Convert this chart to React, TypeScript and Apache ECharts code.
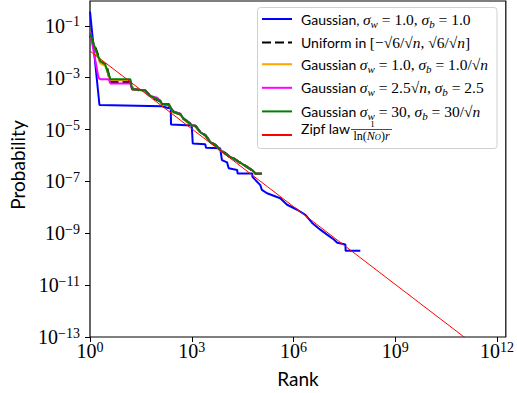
import React, { useEffect, useRef } from 'react';
import * as echarts from 'echarts';

// ---- data (rank, probability) ----
const blueRank = [1, 1.9, 132, 200, 240, 245, 1000, 1070, 2500, 2630, 6900, 7760, 11000, 12300, 21900, 22400, 60300, 61700, 105000, 117000, 166000, 407000, 646000, 1290000, 2240000, 3550000, 6170000, 9770000, 15500000, 19500000, 33900000, 34500000, 93300000];
const blueProb = [0.355, 8.9e-5, 7.9e-5, 6.8e-5, 6.8e-5, 1.58e-5, 1.45e-5, 2.9e-6, 2.75e-6, 2.0e-6, 1.9e-6, 6.6e-7, 5.4e-7, 3.2e-7, 2.75e-7, 2.04e-7, 2.04e-7, 1.51e-7, 7.2e-8, 4.7e-8, 3.5e-8, 2.24e-8, 1.26e-8, 8.1e-9, 5.1e-9, 2.5e-9, 1.38e-9, 8.9e-10, 5.75e-10, 4.3e-10, 3.7e-10, 2.1e-10, 2.1e-10];

const uniformRank = [1, 1.5, 2, 3, 4, 16, 18, 43, 60, 117, 132, 209, 234, 295, 457, 575, 1020, 1300, 1780, 2500, 3550, 5000, 6900, 9500, 13800, 18000, 24000, 32000, 42700, 60000, 76000, 117000];
const uniformProb = [0.045, 0.012, 0.0042, 0.0031, 0.00069, 0.00069, 0.00037, 0.00031, 0.00019, 0.000125, 9.5e-5, 9.2e-5, 7.0e-5, 4.8e-5, 3.9e-5, 2.6e-5, 1.5e-5, 1.35e-5, 8.0e-6, 6.2e-6, 3.3e-6, 2.5e-6, 1.6e-6, 1.25e-6, 8.5e-7, 7.4e-7, 5.7e-7, 4.6e-7, 3.6e-7, 2.7e-7, 2.0e-7, 2.0e-7];

const orangeRank = [1, 1.45, 2, 2.8, 4, 15.5, 17.4, 43, 60, 117, 132, 209, 234, 295, 457, 575, 1020, 1300, 1780, 2500, 3550, 5000, 6900, 9500, 13800, 18000, 24000, 32000, 42700, 60000, 76000, 117000];
const orangeProb = [0.05, 0.0115, 0.0036, 0.0029, 0.0008, 0.0008, 0.00036, 0.00031, 0.0002, 0.00013, 9.6e-5, 9.6e-5, 7.1e-5, 4.6e-5, 4.1e-5, 2.5e-5, 1.45e-5, 1.38e-5, 7.8e-6, 6.1e-6, 3.2e-6, 2.6e-6, 1.6e-6, 1.2e-6, 8.6e-7, 7.5e-7, 5.8e-7, 4.6e-7, 3.7e-7, 2.75e-7, 2.0e-7, 2.0e-7];

const magentaRank = [1, 1.78, 2, 3.6, 4, 15.5, 17.4, 43, 60, 95, 117, 132, 209, 234, 295, 457, 575, 1020, 1300, 1780, 2500, 3550, 5000, 6900, 9500, 13800, 18000, 24000, 32000, 42700, 60000, 76000, 117000];
const magentaProb = [0.062, 0.001, 0.00087, 0.00087, 0.0006, 0.0006, 0.00036, 0.00033, 0.0002, 0.00017, 0.00013, 0.0001, 9.5e-5, 7.0e-5, 4.9e-5, 4.1e-5, 2.6e-5, 1.5e-5, 1.4e-5, 8.0e-6, 6.0e-6, 3.3e-6, 2.6e-6, 1.6e-6, 1.2e-6, 8.7e-7, 7.4e-7, 5.8e-7, 4.6e-7, 3.7e-7, 2.75e-7, 2.0e-7, 2.0e-7];

const greenRank = [1, 1.45, 2, 2.8, 4, 15.5, 17.4, 43, 60, 117, 132, 209, 234, 295, 457, 575, 1020, 1300, 1780, 2500, 3550, 5000, 6900, 9500, 13800, 18000, 24000, 32000, 42700, 60000, 76000, 117000];
const greenProb = [0.054, 0.0123, 0.0044, 0.0033, 0.00087, 0.00087, 0.00036, 0.00032, 0.0002, 0.00013, 9.8e-5, 9.8e-5, 7.2e-5, 4.7e-5, 4.0e-5, 2.6e-5, 1.45e-5, 1.4e-5, 7.9e-6, 6.0e-6, 3.2e-6, 2.6e-6, 1.6e-6, 1.2e-6, 8.7e-7, 7.5e-7, 5.8e-7, 4.6e-7, 3.7e-7, 2.75e-7, 2.0e-7, 2.0e-7];

const zipfRank = [1, 1e12];
const zipfProb = [0.0107, 1.07e-14];

const xTicks = [1, 1e3, 1e6, 1e9, 1e12];
const yTicks = [1e-13, 1e-11, 1e-9, 1e-7, 1e-5, 1e-3, 1e-1];

const seriesNames = [
  'Gaussian, σw = 1.0, σb = 1.0',
  'Uniform in [−√6/√n, √6/√n]',
  'Gaussian σw = 1.0, σb = 1.0/√n',
  'Gaussian σw = 2.5√n, σb = 2.5',
  'Gaussian σw = 30, σb = 30/√n',
  'Zipf law',
];

const legendRich: Record<string, string> = {
  'Gaussian, σw = 1.0, σb = 1.0': '{t|Gaussian, }{i|σ}{sb|w}{m| = 1.0, }{i|σ}{sb|b}{m| = 1.0}',
  'Uniform in [−√6/√n, √6/√n]': '{t|Uniform in }{m|[−√6/√}{i|n}{m|, √6/√}{i|n}{m|]}',
  'Gaussian σw = 1.0, σb = 1.0/√n': '{t|Gaussian }{i|σ}{sb|w}{m| = 1.0, }{i|σ}{sb|b}{m| = 1.0/√}{i|n}',
  'Gaussian σw = 2.5√n, σb = 2.5': '{t|Gaussian }{i|σ}{sb|w}{m| = 2.5√}{i|n}{m|, }{i|σ}{sb|b}{m| = 2.5}',
  'Gaussian σw = 30, σb = 30/√n': '{t|Gaussian }{i|σ}{sb|w}{m| = 30, }{i|σ}{sb|b}{m| = 30/√}{i|n}',
};

const SERIF = 'Liberation Serif';
const SANS = 'Lato';

function pow10Label(v: number) {
  const e = Math.round(Math.log10(v));
  const s = e < 0 ? '−' + String(-e) : String(e);
  return `{b|10}{s|${s}}`;
}

const tickRich = {
  b: { fontFamily: SERIF, fontSize: 20, lineHeight: 22, color: '#000' },
  s: { fontFamily: SERIF, fontSize: 14, lineHeight: 10, verticalAlign: 'top', color: '#000' },
};

export default function App() {
  const ref = useRef<HTMLDivElement>(null);
  useEffect(() => {
    if (!ref.current) return;
    const chart = echarts.init(ref.current, undefined, { renderer: 'svg' });
    const mk = (name: string, ranks: number[], probs: number[], color: string, width: number, type: any = 'solid') => ({
      name,
      type: 'line',
      data: ranks.map((r, i) => [r, probs[i]]),
      symbol: 'none',
      clip: true,
      lineStyle: { color, width, type },
      itemStyle: { color },
    });
    const legendRichStyles = {
      t: { fontFamily: SANS, fontSize: 14, lineHeight: 20, color: '#000', padding: [0, 0, 0, 4] },
      m: { fontFamily: SERIF, fontSize: 15.5, lineHeight: 20, color: '#000' },
      i: { fontFamily: SERIF, fontStyle: 'italic', fontSize: 15.5, lineHeight: 20, color: '#000' },
      sb: { fontFamily: SERIF, fontStyle: 'italic', fontSize: 11, lineHeight: 14, verticalAlign: 'bottom', color: '#000' },
    };
    const legendCommon = {
      orient: 'vertical',
      itemWidth: 30,
      itemHeight: 14,
      backgroundColor: 'transparent',
      borderWidth: 0,
      itemStyle: { opacity: 0 },
    };
    const front = { z: 100 };
    chart.setOption({
      animation: false,
      backgroundColor: '#fff',
      grid: {
        left: 90, right: 11, top: 1, bottom: 53,
        show: true, borderColor: '#000', borderWidth: 1.2, backgroundColor: 'transparent',
      },
      xAxis: {
        type: 'log', logBase: 10, min: 1, max: 1.82e12,
        name: 'Rank', nameLocation: 'middle', nameGap: 32,
        nameTextStyle: { fontFamily: SANS, fontSize: 19, color: '#000' },
        axisLine: { show: false },
        axisTick: { show: true, length: 5, inside: false, lineStyle: { color: '#000', width: 1 }, customValues: xTicks },
        axisLabel: { customValues: xTicks, formatter: (v: number) => pow10Label(v), rich: tickRich, margin: 3 },
        splitLine: { show: false },
        minorTick: { show: false },
      },
      yAxis: {
        type: 'log', logBase: 10, min: 1e-13, max: 0.912,
        name: 'Probability', nameLocation: 'middle', nameGap: 62, nameRotate: 90,
        nameTextStyle: { fontFamily: SANS, fontSize: 19, color: '#000', padding: [0, 0, 0, 8] },
        axisLine: { show: false },
        axisTick: { show: true, length: 5, inside: false, lineStyle: { color: '#000', width: 1 }, customValues: yTicks },
        axisLabel: { customValues: yTicks, formatter: (v: number) => pow10Label(v), rich: tickRich, margin: 10 },
        splitLine: { show: false },
        minorTick: { show: false },
      },
      legend: [
        {
          ...legendCommon, left: 257, top: 9, padding: [2, 6, 2, 4], itemGap: 5.6, data: seriesNames.slice(0, 5),
          formatter: (n: string) => legendRich[n] || n,
          textStyle: { rich: legendRichStyles, fontFamily: SANS, fontSize: 14 },
        },
        {
          ...legendCommon, left: 257, top: 128, padding: [0, 0, 0, 4], itemGap: 0, data: seriesNames.slice(5),
          formatter: () => '',
        },
      ],
      graphic: [
        {
          type: 'rect', z: 3,
          shape: { x: 257.5, y: 7.5, width: 239.5, height: 141, r: 3 },
          style: { fill: 'rgba(255,255,255,0.85)', stroke: '#d0d0d0', lineWidth: 1 },
        },
        { type: 'text', ...front, x: 301, y: 128.5, style: { text: 'Zipf law', font: `14px "${SANS}"`, fill: '#000', align: 'left', verticalAlign: 'middle' } },
        { type: 'text', ...front, x: 372.5, y: 124.3, style: { text: '1', font: `9px "${SERIF}"`, fill: '#000', align: 'center', verticalAlign: 'middle' } },
        { type: 'line', ...front, shape: { x1: 351, y1: 129.5, x2: 392, y2: 129.5 }, style: { stroke: '#000', lineWidth: 0.7 } },
        {
          type: 'text', ...front, x: 371.5, y: 136,
          style: {
            text: '{m|ln(}{i|N}{s|O}{m|)}{i|r}', align: 'center', verticalAlign: 'middle', fill: '#000',
            rich: {
              m: { fontFamily: SERIF, fontSize: 12, lineHeight: 11, fill: '#000' },
              i: { fontFamily: SERIF, fontStyle: 'italic', fontSize: 12, lineHeight: 11, fill: '#000' },
              s: { fontFamily: SERIF, fontStyle: 'italic', fontSize: 8.5, lineHeight: 8, verticalAlign: 'bottom', fill: '#000' },
            },
          },
        },
      ],
      series: [
        mk(seriesNames[0], blueRank, blueProb, '#0000ff', 2),
        mk(seriesNames[1], uniformRank, uniformProb, '#000000', 2.5, [9, 4]),
        mk(seriesNames[2], orangeRank, orangeProb, '#ffa500', 2),
        mk(seriesNames[3], magentaRank, magentaProb, '#ff00ff', 2),
        mk(seriesNames[4], greenRank, greenProb, '#008000', 2),
        mk(seriesNames[5], zipfRank, zipfProb, '#ff0000', 1),
      ],
    });
    return () => chart.dispose();
  }, []);
  return <div ref={ref} style={{ width: 517, height: 393, position: 'absolute', left: 0, top: 0 }} />;
}
